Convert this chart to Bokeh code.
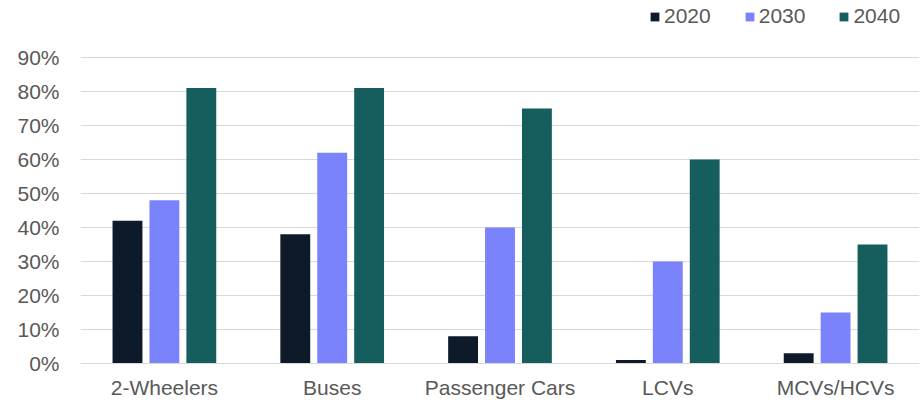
from bokeh.plotting import figure
from bokeh.models import (ColumnDataSource, FactorRange, Range1d, FixedTicker,
                          PrintfTickFormatter, Legend, LegendItem)
from bokeh.transform import dodge
from bokeh.embed import file_html
from bokeh.resources import INLINE

categories = ["2-Wheelers", "Buses", "Passenger Cars", "LCVs", "MCVs/HCVs"]
years = ["2020", "2030", "2040"]
v2020 = [42, 38, 8, 1, 3]
v2030 = [48, 62, 40, 30, 15]
v2040 = [81, 81, 75, 60, 35]
y_ticks = [0, 10, 20, 30, 40, 50, 60, 70, 80, 90]

colors = ["#0E1A2A", "#7B83FC", "#165E5E"]
FONT = "Liberation Sans"
TXT = "#595959"
GRID = "#D9D9D9"

# frame spans the full height above the axis so the legend can sit inside it
FRAME_H = 363
Y_TOP = 90 * FRAME_H / 306.0

src = ColumnDataSource(dict(cat=categories, y2020=v2020, y2030=v2030, y2040=v2040))

p = figure(width=920, height=401, x_range=FactorRange(*categories, range_padding=0),
           y_range=Range1d(0, Y_TOP), output_backend="svg", toolbar_location=None,
           min_border_left=80, min_border_right=1, min_border_top=0,
           min_border_bottom=38)
p.outline_line_color = None

renderers = []
for yr, col, off in zip(years, colors, [-0.22, 0.0, 0.22]):
    r = p.vbar(x=dodge("cat", off, range=p.x_range), top="y" + yr, width=0.178,
               source=src, fill_color=col, line_color=None)
    renderers.append(r)

p.xgrid.grid_line_color = None
p.ygrid.ticker = FixedTicker(ticks=y_ticks)
p.ygrid.grid_line_color = GRID
p.ygrid.grid_line_width = 1

p.yaxis.ticker = FixedTicker(ticks=y_ticks)
p.yaxis.formatter = PrintfTickFormatter(format="%d%%")
p.yaxis.axis_line_color = None
p.yaxis.major_tick_line_color = None
p.yaxis.minor_tick_line_color = None
p.yaxis.major_label_standoff = 15
p.yaxis.major_label_text_font = FONT
p.yaxis.major_label_text_font_size = "21px"
p.yaxis.major_label_text_color = TXT

p.xaxis.axis_line_color = GRID
p.xaxis.axis_line_width = 1
p.xaxis.major_tick_line_color = None
p.xaxis.minor_tick_line_color = None
p.xaxis.major_label_standoff = 6
p.xaxis.major_label_text_font = FONT
p.xaxis.major_label_text_font_size = "21px"
p.xaxis.major_label_text_color = TXT

legend = Legend(items=[LegendItem(label=y, renderers=[r]) for y, r in zip(years, renderers)],
                orientation="horizontal", location=(569, 335),
                glyph_width=11, glyph_height=11, label_standoff=4, spacing=33,
                padding=0, margin=0, border_line_color=None,
                background_fill_alpha=0, label_text_font=FONT,
                label_text_font_size="21px", label_text_color=TXT,
                label_height=21)
p.add_layout(legend, "center")

open("out.html", "w").write(file_html(p, INLINE))
